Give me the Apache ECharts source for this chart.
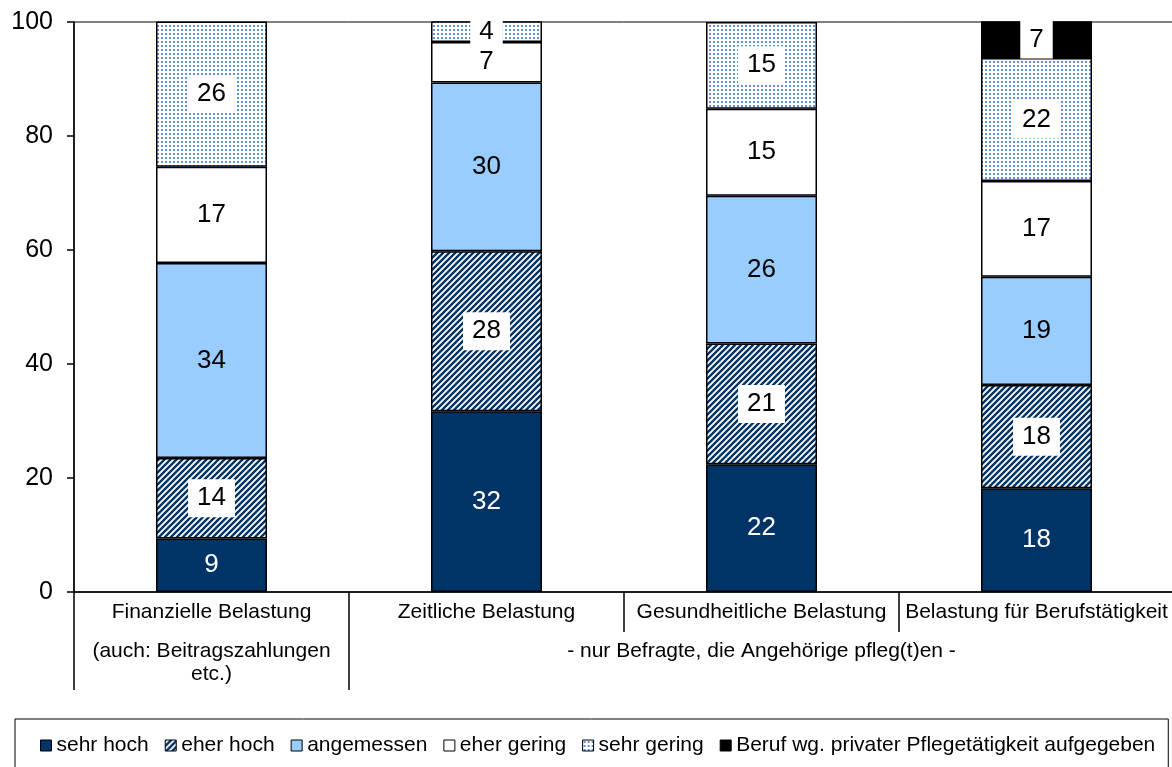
<!DOCTYPE html>
<html>
<head>
<meta charset="utf-8">
<script src="https://cdn.jsdelivr.net/npm/echarts@6/dist/echarts.min.js"></script>
<style>
  html, body { margin: 0; padding: 0; background: #fff; }
  #box { width: 1172px; height: 767px; }
</style>
</head>
<body>
<div id="box"></div>
<script>
// Kategorien und Werte (in %)
var categories = ['Finanzielle Belastung', 'Zeitliche Belastung', 'Gesundheitliche Belastung', 'Belastung für Berufstätigkeit'];
var subLabels = ['(auch: Beitragszahlungen\netc.)', '', '- nur Befragte, die Angehörige pfleg(t)en -', ''];
var sehrHoch = [9.4, 31.7, 22.4, 18.2];
var eherHoch = [14.1, 28.1, 21.2, 18.1];
var angemessen = [34.2, 29.6, 25.9, 19.0];
var eherGering = [16.9, 7.1, 15.3, 16.8];
var sehrGering = [25.5, 4.0, 15.2, 21.6];
var berufAufgegeben = [null, null, null, 6.7];
var yTicks = [0, 20, 40, 60, 80, 100];

var FONT = '"Liberation Sans", Arial, sans-serif';

function makePattern(w, h, draw) {
    var c = document.createElement('canvas');
    c.width = w; c.height = h;
    var ctx = c.getContext('2d');
    ctx.fillStyle = '#fff';
    ctx.fillRect(0, 0, w, h);
    draw(ctx);
    return { image: c, repeat: 'repeat' };
}

// schraffur fuer "eher hoch"
var stripes = makePattern(6, 6, function (ctx) {
    ctx.strokeStyle = '#003366';
    ctx.lineWidth = 2.4;
    ctx.beginPath();
    ctx.moveTo(-3, 3); ctx.lineTo(3, -3);
    ctx.moveTo(0, 6); ctx.lineTo(6, 0);
    ctx.moveTo(3, 9); ctx.lineTo(9, 3);
    ctx.stroke();
});
// punkte fuer "sehr gering"
var dots = makePattern(4, 4, function (ctx) {
    ctx.fillStyle = '#5f92d8';
    ctx.fillRect(1, 1, 2, 2);
});

var myChart = echarts.init(document.getElementById('box'));

function boxLabel(bg, color) {
    var l = {
        show: true,
        position: 'inside',
        fontSize: 26,
        fontFamily: FONT,
        color: color,
        formatter: function (p) { return Math.round(p.value); }
    };
    if (bg) {
        l.backgroundColor = '#fff';
        l.padding = [6, 9, 6, 9];
    }
    return l;
}

function mkSeries(name, data, color, label) {
    return {
        name: name,
        type: 'bar',
        stack: 'total',
        barWidth: 111,
        data: data,
        itemStyle: { color: color, borderColor: '#000', borderWidth: 1.5 },
        label: label,
        emphasis: { disabled: true }
    };
}

var option = {
    animation: false,
    textStyle: { fontFamily: FONT },
    grid: {
        left: 74,
        width: 1100,
        top: 22,
        height: 570,
        outerBoundsMode: 'none',
        show: true,
        borderColor: '#000',
        borderWidth: 1
    },
    legend: {
        left: 15,
        top: 719,
        icon: 'rect',
        padding: [16, 13, 30, 25],
        borderColor: '#000',
        borderWidth: 1,
        itemGap: 16,
        itemWidth: 11,
        itemHeight: 11,
        textStyle: { fontSize: 21, color: '#000', fontFamily: FONT },
        itemStyle: { borderWidth: 1, borderColor: '#000' }
    },
    xAxis: [
        {
            type: 'category',
            data: categories,
            position: 'bottom',
            axisLine: { show: true, lineStyle: { color: '#000', width: 1.5 } },
            axisTick: { show: true, length: 40, lineStyle: { color: '#000', width: 1.5 } },
            axisLabel: { interval: 0, margin: 10, fontSize: 21, color: '#000', fontFamily: FONT }
        },
        {
            type: 'category',
            data: subLabels,
            position: 'bottom',
            axisLine: { show: false },
            axisTick: {
                show: true,
                length: 98,
                interval: function (i) { return i <= 1; },
                lineStyle: { color: '#000', width: 1.5 }
            },
            axisLabel: { interval: 0, margin: 48, fontSize: 21, lineHeight: 23, color: '#000', fontFamily: FONT, hideOverlap: false }
        }
    ],
    yAxis: {
        type: 'value',
        min: yTicks[0],
        max: yTicks[yTicks.length - 1],
        interval: 20,
        axisLine: { show: true, lineStyle: { color: '#000', width: 1.5 } },
        axisTick: { show: true, length: 7, lineStyle: { color: '#000', width: 1.5 } },
        axisLabel: { margin: 21, fontSize: 25, color: '#000', fontFamily: FONT },
        splitLine: { show: false }
    },
    series: [
        mkSeries('sehr hoch', sehrHoch, '#003366', boxLabel(false, '#fff')),
        mkSeries('eher hoch', eherHoch, stripes, boxLabel(true, '#000')),
        mkSeries('angemessen', angemessen, '#99ccff', boxLabel(false, '#000')),
        mkSeries('eher gering', eherGering, '#fff', boxLabel(false, '#000')),
        mkSeries('sehr gering', sehrGering, dots, boxLabel(true, '#000')),
        mkSeries('Beruf wg. privater Pflegetätigkeit aufgegeben', berufAufgegeben, '#000', boxLabel(true, '#000'))
    ]
};

myChart.setOption(option);
</script>
</body>
</html>
